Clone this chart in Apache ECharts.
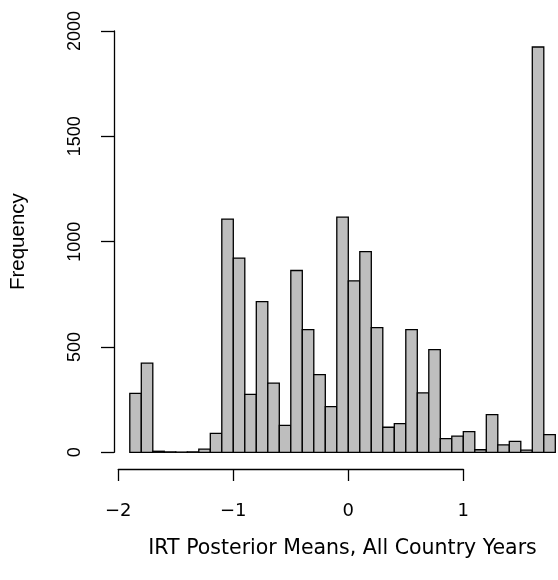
<!DOCTYPE html>
<html>
<head>
<meta charset="utf-8">
<script src="https://cdn.jsdelivr.net/npm/echarts@6/dist/echarts.min.js"></script>
<style>
  html, body { margin: 0; padding: 0; background: #fff; }
  #chart { width: 558px; height: 580px; }
</style>
</head>
<body>
<div id="chart"></div>
<script>
// Histogram bin edges (width 0.1)
const binEdges = [-1.9, -1.8, -1.7, -1.6, -1.5, -1.4, -1.3, -1.2, -1.1, -1.0,
                  -0.9, -0.8, -0.7, -0.6, -0.5, -0.4, -0.3, -0.2, -0.1, 0.0,
                  0.1, 0.2, 0.3, 0.4, 0.5, 0.6, 0.7, 0.8, 0.9, 1.0,
                  1.1, 1.2, 1.3, 1.4, 1.5, 1.6, 1.7, 1.8];
// Country-year counts per bin
const counts = [280, 423, 5, 2, 1, 2, 15, 90, 1107, 922,
                275, 715, 328, 128, 863, 582, 369, 217, 1116, 814,
                953, 592, 119, 136, 582, 282, 487, 65, 77, 98,
                12, 179, 35, 52, 10, 1924, 84];
const xTicks = [-2, -1, 0, 1];
const yTicks = [0, 500, 1000, 1500, 2000];

const histData = counts.map((c, i) => [binEdges[i], binEdges[i + 1], c]);

const chart = echarts.init(document.getElementById('chart'), null, { renderer: 'canvas' });

const axisFontX = '"DejaVu Sans", sans-serif';
const axisFontY = '"Liberation Sans", Arial, sans-serif';

const option = {
  backgroundColor: '#ffffff',
  animation: false,
  grid: [
    // plotting area for the bars
    { left: 129.8, top: 31, width: 425.5, height: 421.3 },
    // detached x axis beneath the plot
    { left: 118.3, top: 468, width: 345, height: 1 },
    // detached y axis left of the plot
    { left: 114, top: 31, width: 1, height: 421.3 }
  ],
  xAxis: [
    {
      gridIndex: 0, type: 'value', min: binEdges[0], max: binEdges[binEdges.length - 1],
      axisLine: { show: false }, axisTick: { show: false }, axisLabel: { show: false },
      splitLine: { show: false },
      name: 'IRT Posterior Means, All Country Years',
      nameLocation: 'middle', nameGap: 86,
      nameTextStyle: { fontFamily: axisFontX, fontSize: 20.5, color: '#000' }
    },
    {
      gridIndex: 1, type: 'value', min: xTicks[0], max: xTicks[xTicks.length - 1], interval: 1,
      position: 'bottom',
      axisLine: { show: true, lineStyle: { color: '#000', width: 1.3 } },
      axisTick: { show: true, inside: false, length: 12, lineStyle: { color: '#000', width: 1.3 } },
      axisLabel: {
        show: true, margin: 33, color: '#000', fontFamily: axisFontX, fontSize: 18,
        formatter: v => (v < 0 ? '\u2212' + Math.abs(v) : String(v))
      },
      splitLine: { show: false }
    },
    {
      gridIndex: 2, type: 'value', show: false
    }
  ],
  yAxis: [
    {
      gridIndex: 0, type: 'value', min: 0, max: 2000,
      axisLine: { show: false }, axisTick: { show: false }, axisLabel: { show: false },
      splitLine: { show: false }
    },
    {
      gridIndex: 1, type: 'value', show: false
    },
    {
      gridIndex: 2, type: 'value', min: yTicks[0], max: yTicks[yTicks.length - 1], interval: 500,
      position: 'left',
      axisLine: { show: true, lineStyle: { color: '#000', width: 1.3 } },
      axisTick: { show: true, inside: false, length: 13, lineStyle: { color: '#000', width: 1.3 } },
      axisLabel: {
        show: true, rotate: 90, margin: 30, color: '#000', fontFamily: axisFontY, fontSize: 18,
        formatter: v => String(v)
      },
      splitLine: { show: false },
      name: 'Frequency', nameLocation: 'middle', nameGap: 85, nameRotate: 90,
      nameTextStyle: { fontFamily: axisFontY, fontSize: 20.5, color: '#000' }
    }
  ],
  series: [
    {
      type: 'custom',
      xAxisIndex: 0, yAxisIndex: 0,
      data: histData,
      renderItem: function (params, api) {
        const p0 = api.coord([api.value(0), 0]);
        const p1 = api.coord([api.value(1), api.value(2)]);
        return {
          type: 'rect',
          shape: { x: p0[0], y: p1[1], width: p1[0] - p0[0], height: p0[1] - p1[1] },
          style: { fill: '#bebebe', stroke: '#000', lineWidth: 1.3 }
        };
      }
    }
  ]
};

chart.setOption(option);
</script>
</body>
</html>
